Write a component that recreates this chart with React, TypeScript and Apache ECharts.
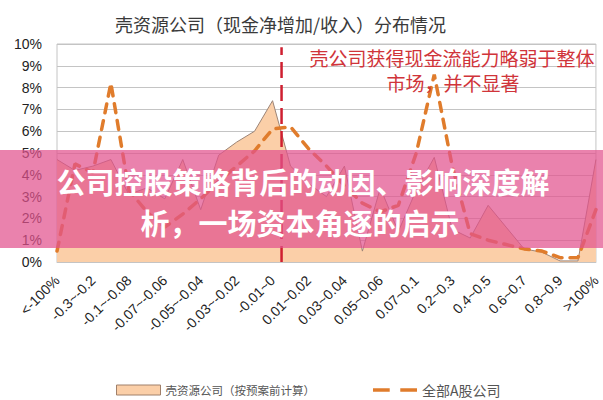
import React, { useEffect, useRef } from 'react';
import * as echarts from 'echarts';

const categories = [
  '<-100%', '-1~-0.3', '-0.3~-0.2', '-0.2~-0.1', '-0.1~-0.08', '-0.08~-0.07',
  '-0.07~-0.06', '-0.06~-0.05', '-0.05~-0.04', '-0.04~-0.03', '-0.03~-0.02',
  '-0.02~-0.01', '-0.01~0', '0~0.01', '0.01~0.02', '0.02~0.03', '0.03~0.04',
  '0.04~0.05', '0.05~0.06', '0.06~0.07', '0.07~0.1', '0.1~0.2', '0.2~0.3',
  '0.3~0.4', '0.4~0.5', '0.5~0.6', '0.6~0.7', '0.7~0.8', '0.8~0.9', '0.9~1', '>100%',
];

// 壳资源公司（按预案前计算）, %
const shellValues = [
  4.7, 4.2, 4.4, 4.7, 3.1, 3.4, 2.9, 4.7, 2.4, 4.9, 5.5, 6.0, 7.4, 4.4, 3.6, 3.0,
  4.4, 0.5, 3.4, 1.4, 3.3, 4.8, 1.5, 1.1, 2.6, 1.6, 0.6, 0.45, 0.05, 0.05, 4.7,
];

// 全部A股公司, %
const allAValues = [
  0.5, 4.5, 4.1, 8.2, 3.3, 2.3, 1.6, 2.2, 2.9, 3.7, 4.4, 5.1, 6.1, 6.2, 5.2, 4.4,
  3.5, 2.7, 2.3, 2.6, 5.0, 8.6, 4.4, 1.3, 1.0, 0.8, 0.6, 0.5, 0.2, 0.2, 2.4,
];

const yTicks = [0, 1, 2, 3, 4, 5, 6, 7, 8, 9, 10];

const zeroBoundary = 12.5; // between '-0.01~0' and '0~0.01'
const refLineTop = 9.85;

const titleText = '壳资源公司（现金净增加/收入）分布情况';
const legendNames = ['壳资源公司（按预案前计算）', '全部A股公司'];
const noteLines = ['壳公司获得现金流能力略弱于整体', '市场，并不显著'];
const bannerLines = ['公司控股策略背后的动因、影响深度解', '析，一场资本角逐的启示'];

const CJK = '"Noto Sans CJK SC", "Noto Sans", sans-serif';
const LATIN = '"Liberation Sans", Arial, sans-serif';

export default function App() {
  const ref = useRef<HTMLDivElement>(null);

  useEffect(() => {
    document.body.style.margin = '0';
    if (!ref.current) return;
    const chart = echarts.init(ref.current, undefined, { renderer: 'svg' });

    const option: any = {
      animation: false,
      backgroundColor: '#ffffff',
      title: {
        text: titleText,
        left: 110,
        top: 10,
        textStyle: { fontFamily: CJK, fontSize: 18, fontWeight: 'normal', color: '#3a3a3a' },
      },
      grid: { left: 57, right: 5, top: 44, bottom: 138, containLabel: false, show: true, borderColor: '#c4c4c4', borderWidth: 1 },
      legend: {
        left: 111,
        top: 378,
        itemWidth: 44,
        itemHeight: 10,
        itemGap: 58,
        textStyle: { fontFamily: CJK, fontSize: 11.5, color: '#555' },
        data: [
          { name: legendNames[0], icon: 'rect', itemStyle: { color: '#fbcfa8', borderColor: '#a0806a', borderWidth: 1 } },
          {
            name: legendNames[1],
            icon: 'path://M0 0H19V4H0Z M31 0H50V4H31Z',
            itemStyle: { color: '#e07c2c', borderWidth: 0 },
            textStyle: { fontSize: 14 },
          },
        ],
      },
      xAxis: [
        {
          type: 'category',
          data: categories,
          boundaryGap: false,
          axisLine: { show: true, lineStyle: { color: '#c4c4c4' } },
          axisTick: { show: false },
          axisLabel: { interval: 1, rotate: 45, margin: 16, fontFamily: LATIN, fontSize: 14, color: '#222' },
          splitLine: { show: false },
        },
        { type: 'value', min: 0, max: categories.length - 1, show: false },
      ],
      yAxis: {
        type: 'value',
        min: yTicks[0],
        max: yTicks[yTicks.length - 1],
        interval: 1,
        axisLine: { show: false },
        axisTick: { show: false },
        axisLabel: { formatter: (v: number) => `${v}%`, fontFamily: LATIN, fontSize: 14, color: '#222', margin: 15 },
        splitLine: { lineStyle: { color: '#c4c4c4', width: 1 } },
      },
      series: [
        {
          name: legendNames[0],
          type: 'line',
          data: shellValues,
          symbol: 'none',
          itemStyle: { color: '#fbcfa8' },
          lineStyle: { color: '#9c8476', width: 1 },
          areaStyle: { color: '#fbcfa8', opacity: 1 },
          z: 2,
        },
        {
          name: legendNames[1],
          type: 'line',
          data: allAValues,
          symbol: 'none',
          itemStyle: { color: '#e07c2c' },
          lineStyle: { color: '#e07c2c', width: 3.5, type: [9, 8], cap: 'round' },
          z: 3,
        },
        {
          name: 'zero',
          type: 'line',
          xAxisIndex: 1,
          data: [[zeroBoundary, 0], [zeroBoundary, refLineTop]],
          symbol: 'none',
          silent: true,
          lineStyle: { color: '#cf1f30', width: 2.5, type: [16, 7] },
          z: 4,
        },
      ],
      graphic: [
        {
          type: 'text',
          x: 452,
          y: 57,
          z: 50,
          style: { text: noteLines[0], fill: '#d0343a', font: `19px ${CJK}`, textAlign: 'center', textVerticalAlign: 'middle' },
        },
        {
          type: 'text',
          x: 453,
          y: 82,
          z: 50,
          style: { text: noteLines[1], fill: '#d0343a', font: `19px ${CJK}`, textAlign: 'center', textVerticalAlign: 'middle' },
        },
        {
          type: 'rect',
          shape: { x: 0, y: 150, width: 603, height: 98 },
          z: 100,
          style: { fill: 'rgba(226,82,142,0.72)' },
        },
        {
          type: 'text',
          x: 303,
          y: 181,
          z: 101,
          style: {
            text: bannerLines[0],
            fill: '#ffffff',
            font: `bold 29px ${CJK}`,
            textAlign: 'center',
            textVerticalAlign: 'middle',
          },
        },
        {
          type: 'text',
          x: 300,
          y: 222,
          z: 101,
          style: {
            text: bannerLines[1],
            fill: '#ffffff',
            font: `bold 29px ${CJK}`,
            textAlign: 'center',
            textVerticalAlign: 'middle',
          },
        },
      ],
    };

    chart.setOption(option);
    return () => chart.dispose();
  }, []);

  return <div ref={ref} style={{ position: 'fixed', left: 0, top: 0, width: 603, height: 400 }} />;
}
